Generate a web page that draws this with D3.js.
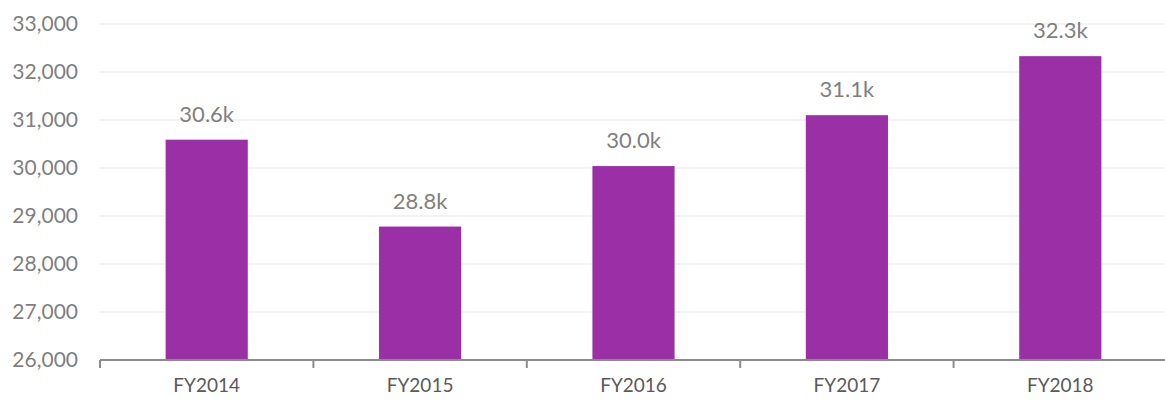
<!DOCTYPE html>
<html><head><meta charset="utf-8">
<script src="https://cdn.jsdelivr.net/npm/d3@7"></script>
<style>body{margin:0;background:#fff;} svg{display:block;}</style>
</head><body>
<svg id="c" width="1165" height="401"></svg>
<script>
const categories = ["FY2014","FY2015","FY2016","FY2017","FY2018"];
const values = [30590, 28780, 30040, 31100, 32330];
const yTicks = [26000,27000,28000,29000,30000,31000,32000,33000];

const svg = d3.select("#c");
const font = "Lato, 'Open Sans', sans-serif";
const m = {left:100, right:1167, top:24, bottom:360};
const x = d3.scaleBand().domain(categories).range([m.left, m.right]).padding(0);
const y = d3.scaleLinear().domain([26000,33000]).range([m.bottom, m.top]);
const barW = x.bandwidth()*0.385;

// gridlines
svg.append("g").selectAll("line").data(yTicks.slice(1)).join("line")
  .attr("x1", m.left).attr("x2", 1165)
  .attr("y1", d=>y(d)).attr("y2", d=>y(d))
  .attr("stroke", "#EFEFEF").attr("stroke-width", 1.5);

// y labels
svg.append("g").selectAll("text").data(yTicks).join("text")
  .attr("x", 78).attr("y", d=>y(d))
  .attr("dy","0.35em").attr("text-anchor","end")
  .attr("font-family", font).attr("font-size", 21).attr("fill","#7F7F7F")
  .text(d=>d3.format(",")(d));

// bars
svg.append("g").selectAll("rect").data(values).join("rect")
  .attr("x",(d,i)=>x(categories[i])+x.bandwidth()/2-barW/2)
  .attr("width", barW)
  .attr("y", d=>y(d)).attr("height", d=>y(26000)-y(d))
  .attr("fill","#9B2FA6");

// data labels
svg.append("g").selectAll("text").data(values).join("text")
  .attr("x",(d,i)=>x(categories[i])+x.bandwidth()/2)
  .attr("y", d=>y(d)-18)
  .attr("text-anchor","middle")
  .attr("font-family", font).attr("font-size", 22).attr("fill","#7F7F7F")
  .text(d=>(d/1000).toFixed(1)+"k");

// x axis
const xa = svg.append("g");
xa.append("line").attr("x1", m.left).attr("x2", 1165).attr("y1", y(26000)).attr("y2", y(26000))
  .attr("stroke","#8C8C8C").attr("stroke-width",2);
const tickPos = categories.map(c=>x(c)).concat([m.right]);
xa.selectAll("line.t").data(tickPos).join("line").attr("class","t")
  .attr("x1",d=>d).attr("x2",d=>d).attr("y1", y(26000)).attr("y2", y(26000)+8)
  .attr("stroke","#8C8C8C").attr("stroke-width",2);
xa.selectAll("text").data(categories).join("text")
  .attr("x", d=>x(d)+x.bandwidth()/2).attr("y", 392)
  .attr("text-anchor","middle")
  .attr("font-family", font).attr("font-size", 19).attr("fill","#595959")
  .text(d=>d);
</script>
</body></html>
